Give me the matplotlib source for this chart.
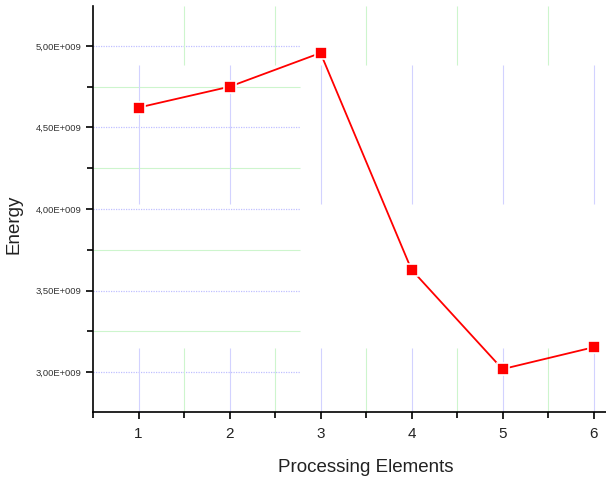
import numpy as np
import matplotlib
matplotlib.use("Agg")
import matplotlib.pyplot as plt
from matplotlib.ticker import MultipleLocator, FuncFormatter

plt.rcParams['font.family'] = ['Liberation Sans', 'DejaVu Sans']

# data
pe = [1, 2, 3, 4, 5, 6]
energy = [4.622e9, 4.750e9, 4.957e9, 3.628e9, 3.018e9, 3.152e9]

fig = plt.figure(figsize=(6.06, 4.8), dpi=100)
# axes runs past the right edge like the original
ax = fig.add_axes([93/606, 68/480, 546/606, 406/480])
ax.set_xlim(0.5, 6.5)
ax.set_ylim(2.755e9, 5.245e9)

# Origin-style broken grid
blue = '#d2d2ff'
green = '#cdf5cd'
xs_major = np.arange(1, 7)
xs_minor = np.arange(1.5, 6.0, 1.0)
ys_major = np.arange(3.0e9, 5.01e9, 0.5e9)
ys_minor = np.arange(3.25e9, 5.0e9, 0.5e9)
ax.hlines(ys_major, 0.5, 2.77, colors='#c0c0ff', lw=0.9, ls=(0, (1, 1)), zorder=1)
ax.hlines(ys_minor, 0.5, 2.77, colors=green, lw=0.8, zorder=1)
ax.vlines(xs_major, 4.03e9, 4.884e9, colors=blue, lw=0.8, zorder=1)
ax.vlines(xs_major, 2.755e9, 3.146e9, colors=blue, lw=0.8, zorder=1)
ax.vlines(xs_minor, 4.884e9, 5.245e9, colors=green, lw=0.8, zorder=1)
ax.vlines(xs_minor, 2.755e9, 3.146e9, colors=green, lw=0.8, zorder=1)

ax.plot(pe, energy, color='red', lw=1.3, marker='s', markersize=8,
        markerfacecolor='red', markeredgecolor='white', markeredgewidth=1.2,
        zorder=3)

ax.spines['top'].set_visible(False)
ax.spines['right'].set_visible(False)
ax.spines['left'].set_linewidth(1.2)
ax.spines['bottom'].set_linewidth(1.2)

ax.xaxis.set_major_locator(MultipleLocator(1))
ax.xaxis.set_minor_locator(MultipleLocator(0.5))
ax.yaxis.set_major_locator(MultipleLocator(0.5e9))
ax.yaxis.set_minor_locator(MultipleLocator(0.25e9))
ax.yaxis.set_major_formatter(FuncFormatter(
    lambda v, p: ("%.2fE+%03d" % (v / 1e9, 9)).replace('.', ',')))
ax.tick_params(axis='both', which='major', direction='out', length=5, width=1.2)
ax.tick_params(axis='both', which='minor', direction='out', length=4, width=1.2)
ax.tick_params(axis='y', labelsize=6.8, pad=3, labelcolor='#333333')
ax.tick_params(axis='x', labelsize=11, pad=6, labelcolor='#222222')

ax.set_xlabel('Processing Elements', fontsize=13.5, labelpad=13, color='#222222')
ax.set_ylabel('Energy', fontsize=13.5, color='#222222')
ax.yaxis.set_label_coords((23 - 93) / 546, 1 - (224 - 6) / 406)

fig.savefig('out.png', dpi=100)
